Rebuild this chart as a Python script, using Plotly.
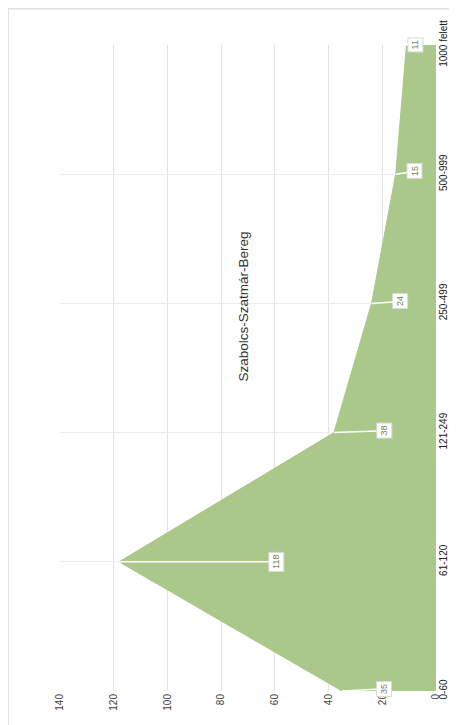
import plotly.graph_objects as go

categories = ["0-60", "61-120", "121-249", "250-499", "500-999", "1000 felett"]
values = [35, 118, 38, 24, 15, 11]
value_ticks = [0, 20, 40, 60, 80, 100, 120, 140]
title_text = "Szabolcs-Szatmár-Bereg"

# pixel offsets of the data-label boxes from their points (styling only)
label_dx = [42, 157, 50, 29, 19, 9]
label_dy = [-2, 0, -2, -2, -3, 0]

fill_color = "rgb(169,200,137)"

fig = go.Figure()
fig.add_trace(go.Scatter(
    x=values, y=categories, mode="lines", fill="tozerox",
    fillcolor=fill_color, line=dict(color=fill_color, width=1),
    hoverinfo="skip", showlegend=False,
))

for v, c, dx, dy in zip(values, categories, label_dx, label_dy):
    fig.add_annotation(
        x=v, y=c, xref="x", yref="y", text=str(v), textangle=-90,
        showarrow=True, arrowhead=0, arrowwidth=1.5, arrowcolor="white",
        ax=dx, ay=dy, bgcolor="white", bordercolor="#d9d9d9", borderwidth=1,
        borderpad=2, font=dict(size=9, color="#6b7f55", family="Liberation Sans"),
    )

fig.add_annotation(
    x=0.489, y=0.595, xref="paper", yref="paper", text=title_text,
    textangle=-90, showarrow=False,
    font=dict(size=13.5, color="#333333", family="Liberation Sans"),
)

fig.add_shape(type="rect", xref="paper", yref="paper",
              x0=-0.138, x1=1.05, y0=-0.059, y1=1.056,
              line=dict(color="#d0d0d0", width=1), fillcolor="rgba(0,0,0,0)")

fig.update_layout(
    width=449, height=717,
    margin=dict(l=52, r=21, t=37, b=34, autoexpand=False),
    paper_bgcolor="white", plot_bgcolor="white",
    xaxis=dict(
        range=[140, 0], tickvals=value_ticks, ticktext=[str(t) for t in value_ticks],
        tickangle=-90, showgrid=True, gridcolor="#e3e3e3", gridwidth=1,
        zeroline=False, showline=False, ticks="", automargin=False,
        tickfont=dict(size=10, color="#404040", family="Liberation Sans"),
    ),
    yaxis=dict(
        type="category", categoryorder="array", categoryarray=categories,
        range=[0, 5], side="right", tickangle=-90, showgrid=True,
        gridcolor="#ececec", zeroline=False, showline=False, ticks="",
        automargin=False,
        tickfont=dict(size=10, color="#222222", family="Liberation Sans"),
    ),
)

fig.write_html("out.html")
